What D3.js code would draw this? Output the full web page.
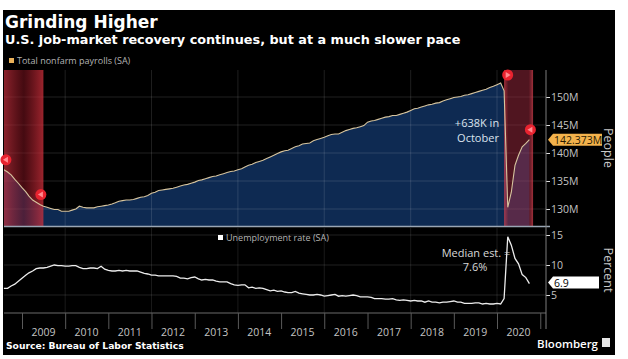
<!DOCTYPE html>
<html><head><meta charset="utf-8">
<script src="https://cdn.jsdelivr.net/npm/d3@7"></script>
<style>body{margin:0;background:#fff}svg{display:block}</style>
</head><body>
<svg id="c" width="628" height="359"></svg>
<script>
// ---- data ----
const startMonth = "2008-08";   // first monthly observation
const payrolls = [ // millions, SA
 137.0,136.6,136.1,135.3,134.6,
 133.8,133.1,132.3,131.6,131.2,130.8,130.5,130.3,130.1,129.9,129.9,129.6,
 129.6,129.6,129.8,130.0,130.5,130.3,130.2,130.2,130.2,130.4,130.5,130.6,
 130.7,130.9,131.1,131.4,131.5,131.6,131.6,131.7,131.9,132.1,132.2,132.4,
 132.8,133.0,133.3,133.4,133.5,133.6,133.7,133.9,134.1,134.3,134.4,134.6,
 134.8,135.1,135.2,135.4,135.6,135.8,135.9,136.1,136.3,136.5,136.7,136.8,
 137.0,137.2,137.5,137.8,138.0,138.3,138.5,138.7,139.0,139.3,139.6,139.9,
 140.2,140.4,140.5,140.8,141.1,141.3,141.6,141.7,141.8,142.2,142.4,142.6,
 142.8,143.1,143.3,143.4,143.4,143.7,144.0,144.2,144.4,144.5,144.7,144.9,
 145.5,145.7,145.8,146.0,146.2,146.4,146.5,146.7,146.7,146.9,147.1,147.3,
 147.6,147.9,148.0,148.2,148.4,148.6,148.7,148.9,149.0,149.3,149.5,149.7,
 149.9,150.0,150.1,150.3,150.4,150.6,150.8,151.0,151.2,151.4,151.7,151.9,
 152.2,152.5,151.1,130.3,133.0,137.8,139.6,141.1,141.7,142.373];
const unemployment = [ // percent, SA
 6.1,6.1,6.5,6.8,7.3,
 7.8,8.3,8.7,9.0,9.4,9.5,9.5,9.6,9.8,10.0,9.9,9.9,
 9.8,9.8,9.9,9.9,9.6,9.4,9.4,9.5,9.5,9.4,9.8,9.3,
 9.1,9.0,9.0,9.1,9.0,9.1,9.0,9.0,9.0,8.8,8.6,8.5,
 8.3,8.3,8.2,8.2,8.2,8.2,8.2,8.1,7.8,7.8,7.7,7.9,
 8.0,7.7,7.5,7.6,7.5,7.5,7.3,7.2,7.2,7.2,6.9,6.7,
 6.6,6.7,6.7,6.2,6.3,6.1,6.2,6.1,5.9,5.7,5.8,5.6,
 5.7,5.5,5.4,5.4,5.6,5.3,5.2,5.1,5.0,5.0,5.1,5.0,
 4.8,4.9,5.0,5.1,4.8,4.9,4.8,4.9,5.0,4.9,4.7,4.7,
 4.7,4.6,4.4,4.4,4.4,4.3,4.3,4.4,4.2,4.1,4.2,4.1,
 4.0,4.1,4.0,4.0,3.8,4.0,3.8,3.8,3.7,3.8,3.8,3.9,
 4.0,3.8,3.8,3.6,3.6,3.6,3.7,3.7,3.5,3.6,3.5,3.5,
 3.6,3.5,4.4,14.7,13.3,11.1,10.2,8.4,7.9,6.9];
const years = [2009,2010,2011,2012,2013,2014,2015,2016,2017,2018,2019,2020];
const payrollTicks = [130,135,140,145,150];
const unempTicks = [5,10,15];
const recessions = [{start:"2008-07", end:"2009-06"},{start:"2020-02", end:"2020-10"}];
const lastPayrollLabel = "142.373M";
const lastUnempLabel = "6.9";

// ---- helpers ----
const parseM = d3.timeParse("%Y-%m");
const t0 = parseM(startMonth);
const dates = payrolls.map((_, i) => d3.timeMonth.offset(t0, i));
const svg = d3.select("#c");

// layout
const L = 4, R = 546;
const topY0 = 70, topY1 = 226, botY0 = 228, botY1 = 313;

const x = d3.scaleTime().domain([new Date(2009,0,1), new Date(2020,0,1)]).range([22, 497]);
const yT = d3.scaleLinear().domain([130,150]).range([209,97]);
const yB = d3.scaleLinear().domain([5,15]).range([295,235]);

// backgrounds
svg.append("rect").attr("width",628).attr("height",359).attr("fill","#fff");
svg.append("rect").attr("x",3).attr("y",10).attr("width",612).attr("height",345).attr("fill","#000");

const defs = svg.append("defs");
const g1 = defs.append("linearGradient").attr("id","rec").attr("x1","0").attr("x2","1").attr("y1","0").attr("y2","0");
g1.append("stop").attr("offset","0").attr("stop-color","#c8323f").attr("stop-opacity",0.7);
g1.append("stop").attr("offset","0.5").attr("stop-color","#8a1522").attr("stop-opacity",0.5);
g1.append("stop").attr("offset","1").attr("stop-color","#d0303c").attr("stop-opacity",0.75);
const g2 = defs.append("linearGradient").attr("id","rec2").attr("x1","0").attr("x2","1").attr("y1","0").attr("y2","0");
g2.append("stop").attr("offset","0").attr("stop-color","#d8404e").attr("stop-opacity",0.75);
g2.append("stop").attr("offset","0.15").attr("stop-color","#a02a40").attr("stop-opacity",0.5);
g2.append("stop").attr("offset","0.85").attr("stop-color","#a02a40").attr("stop-opacity",0.5);
g2.append("stop").attr("offset","1").attr("stop-color","#d8404e").attr("stop-opacity",0.75);
svg.append("clipPath").attr("id","clipT").append("rect").attr("x",L).attr("y",topY0).attr("width",R-L).attr("height",topY1-topY0);

// top area
const area = d3.area().x((d,i)=>x(dates[i])).y0(topY1).y1(d=>yT(d)).curve(d3.curveLinear);
svg.append("path").datum(payrolls).attr("d",area).attr("fill","#0e2a52").attr("clip-path","url(#clipT)");

// gridlines top
svg.append("g").selectAll("line").data(payrollTicks).join("line")
  .attr("x1",L).attr("x2",R).attr("y1",d=>yT(d)).attr("y2",d=>yT(d))
  .attr("stroke","#ffffff").attr("stroke-opacity",0.13).attr("stroke-width",1);
const gridYears = [2010,2012,2014,2016,2018,2020];
svg.append("g").selectAll("line").data(gridYears).join("line")
  .attr("x1",d=>x(new Date(d,0,1))).attr("x2",d=>x(new Date(d,0,1)))
  .attr("y1",topY0).attr("y2",topY1).attr("stroke","#fff").attr("stroke-opacity",0.12);
// gridlines bottom
svg.append("g").selectAll("line").data(unempTicks).join("line")
  .attr("x1",L).attr("x2",R).attr("y1",d=>yB(d)).attr("y2",d=>yB(d))
  .attr("stroke","#ffffff").attr("stroke-opacity",0.13);
svg.append("g").selectAll("line").data(gridYears).join("line")
  .attr("x1",d=>x(new Date(d,0,1))).attr("x2",d=>x(new Date(d,0,1)))
  .attr("y1",botY0).attr("y2",botY1).attr("stroke","#fff").attr("stroke-opacity",0.1);

// recession shading (from end of peak month to end of trough/last month)
recessions.forEach((r,i)=>{
  const a = Math.max(L, x(d3.timeMonth.offset(parseM(r.start),1)));
  const b = Math.min(R, x(d3.timeMonth.offset(parseM(r.end),1)));
  svg.append("rect").attr("x",a).attr("y",topY0).attr("width",b-a).attr("height",topY1-topY0)
    .attr("fill", i===0 ? "url(#rec)" : "url(#rec2)");
});

// payroll line
const lineT = d3.line().x((d,i)=>x(dates[i])).y(d=>yT(d));
svg.append("path").datum(payrolls).attr("d",lineT).attr("fill","none")
  .attr("stroke","#d6c49e").attr("stroke-width",1.1).attr("clip-path","url(#clipT)");

// recession markers
function marker(cx, cy, dir){
  const g = svg.append("g").attr("transform",`translate(${cx},${cy})`);
  g.append("circle").attr("r",5.5).attr("fill","#e8232f");
  g.append("path").attr("d", dir>0 ? "M-2,-3L3,0L-2,3Z" : "M2,-3L-3,0L2,3Z").attr("fill","#ff8a8f");
}
const idx = m => d3.timeMonth.count(t0, parseM(m));
marker(x(dates[0])+2, yT(payrolls[0])-10, -1);
marker(x(parseM("2009-06"))+1, yT(payrolls[idx("2009-06")])-10, -1);
marker(x(parseM("2020-02"))+7, yT(payrolls[idx("2020-02")])-8, 1);
marker(x(parseM("2020-10"))+1, yT(payrolls[idx("2020-10")])-10, -1);

// separator and bottom
svg.append("line").attr("x1",L).attr("x2",R+4).attr("y1",topY1+0.5).attr("y2",topY1+0.5)
  .attr("stroke","#9aa6b4").attr("stroke-width",1.6);
svg.append("line").attr("x1",L).attr("x2",R).attr("y1",botY1).attr("y2",botY1)
  .attr("stroke","#6a6a6a").attr("stroke-width",1);

// unemployment line
const lineB = d3.line().x((d,i)=>x(dates[i])).y(d=>yB(d));
svg.append("path").datum(unemployment).attr("d",lineB).attr("fill","none")
  .attr("stroke","#ececec").attr("stroke-width",1.3);

// right axes
const fontL = "'Open Sans', sans-serif";
const axT = svg.append("g").attr("transform",`translate(${R},0)`)
  .call(d3.axisRight(yT).tickValues(payrollTicks).tickSize(4).tickFormat(d=>d+"M"));
const axB = svg.append("g").attr("transform",`translate(${R},0)`)
  .call(d3.axisRight(yB).tickValues(unempTicks).tickSize(4).tickFormat(d=>d));
[axT,axB].forEach(a=>{
  a.select(".domain").remove();
  a.selectAll("line").attr("stroke","#e0e0e0");
  a.selectAll("text").attr("fill","#c4c4c4").attr("font-family",fontL).attr("font-size",10.5).attr("x",5);
});
svg.append("line").attr("x1",R).attr("x2",R).attr("y1",topY0).attr("y2",botY1+16)
  .attr("stroke","#7c7c7c").attr("stroke-width",1);

// x axis
const axX = svg.append("g").attr("transform",`translate(0,${botY1})`)
  .call(d3.axisBottom(x).tickValues(years.map(y=>new Date(y,0,1)).concat([new Date(2021,0,1)])).tickSize(16).tickFormat(""));
axX.select(".domain").remove();
axX.selectAll("line").attr("stroke","#5a5a5a");
svg.append("g").selectAll("text").data(years).join("text")
  .attr("x",d=>x(new Date(d,6,1))).attr("y",336).attr("text-anchor","middle")
  .attr("fill","#c4c4c4").attr("font-family",fontL).attr("font-size",10.5).text(d=>d);

// axis titles
svg.append("text").attr("transform","translate(604,148) rotate(90)").attr("text-anchor","middle")
  .attr("fill","#c8c8c8").attr("font-family",fontL).attr("font-size",12.5).text("People");
svg.append("text").attr("transform","translate(604,270) rotate(90)").attr("text-anchor","middle")
  .attr("fill","#c8c8c8").attr("font-family",fontL).attr("font-size",12.5).text("Percent");

// value labels
function valueBox(yv, w, fill, textFill, label){
  const g = svg.append("g").attr("transform",`translate(${R+2},${yv})`);
  g.append("path").attr("d",`M0,0L5,-6H${w}V6H5Z`).attr("fill",fill);
  g.append("text").attr("x",6).attr("y",4).attr("fill",textFill).attr("font-family",fontL)
    .attr("font-size",10.5).text(label);
}
valueBox(yT(payrolls[payrolls.length-1]), 54, "#f3b24c", "#2a1a00", lastPayrollLabel);
valueBox(yB(unemployment[unemployment.length-1])-1, 51, "#ffffff", "#000", lastUnempLabel);

// titles
const fontB = "'DejaVu Sans', sans-serif";
svg.append("text").attr("x",5).attr("y",28).attr("fill","#fff").attr("font-family",fontB)
  .attr("font-weight","bold").attr("font-size",17).text("Grinding Higher");
svg.append("text").attr("x",5).attr("y",44).attr("fill","#fff").attr("font-family",fontB)
  .attr("font-weight","bold").attr("font-size",12.8).text("U.S. job-market recovery continues, but at a much slower pace");

// legends
svg.append("rect").attr("x",9).attr("y",58).attr("width",5).attr("height",5).attr("fill","#eab25a");
svg.append("text").attr("x",17).attr("y",64).attr("fill","#b4b4b4").attr("font-family",fontL)
  .attr("font-size",9).text("Total nonfarm payrolls (SA)");
svg.append("rect").attr("x",218).attr("y",235).attr("width",5).attr("height",5).attr("fill","#fff");
svg.append("text").attr("x",226).attr("y",241).attr("fill","#b4b4b4").attr("font-family",fontL)
  .attr("font-size",9).text("Unemployment rate (SA)");

// annotations
const ann = svg.append("g").attr("font-family",fontL).attr("font-size",11).attr("text-anchor","middle");
ann.append("text").attr("x",477).attr("y",127).attr("fill","#dbe4ee").text("+638K in");
ann.append("text").attr("x",478).attr("y",142).attr("fill","#dbe4ee").text("October");
ann.append("text").attr("x",476).attr("y",257).attr("fill","#d8d8d8").text("Median est. =");
ann.append("text").attr("x",475).attr("y",271).attr("fill","#d8d8d8").text("7.6%");

// source / brand
svg.append("text").attr("x",6).attr("y",349).attr("fill","#fff").attr("font-family",fontB)
  .attr("font-weight","bold").attr("font-size",9.2).text("Source: Bureau of Labor Statistics");
svg.append("text").attr("x",598).attr("y",348).attr("text-anchor","end").attr("fill","#fff")
  .attr("font-family",fontL).attr("font-weight","600").attr("font-size",11.5).text("Bloomberg");
svg.append("rect").attr("x",602).attr("y",338).attr("width",8).attr("height",9).attr("fill","#e6e6e6");
</script>
</body></html>
